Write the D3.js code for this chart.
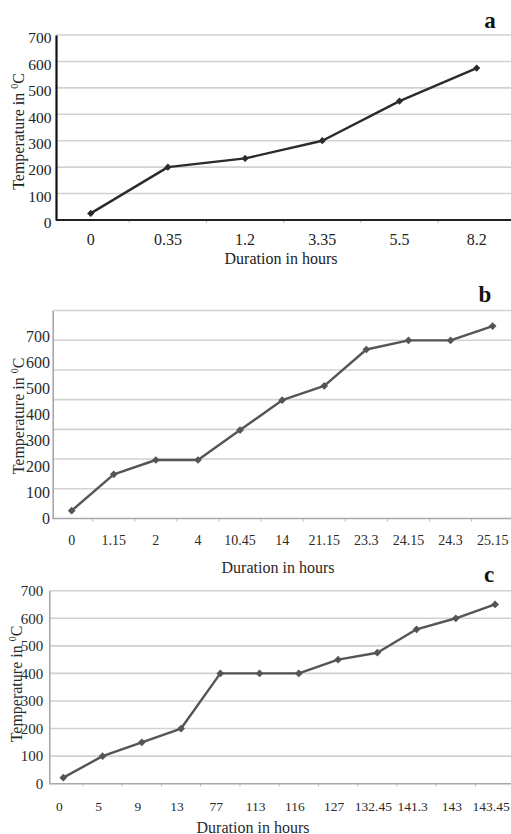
<!DOCTYPE html>
<html>
<head>
<meta charset="utf-8">
<script src="https://cdn.jsdelivr.net/npm/d3@7"></script>
<style>
    body { margin: 0; background: #fff; }
    svg text { font-family: "Liberation Serif", "DejaVu Serif", serif; }
</style>
</head>
<body>
<div id="chart-wrapper"></div>
<script>
// panel a
const hoursA = ["0", "0.35", "1.2", "3.35", "5.5", "8.2"];
const tempA = [25, 200, 233, 300, 450, 575];
// panel b
const hoursB = ["0", "1.15", "2", "4", "10.45", "14", "21.15", "23.3", "24.15", "24.3", "25.15"];
const tempB = [30, 170, 225, 225, 340, 455, 510, 650, 685, 685, 740];
// panel c
const hoursC = ["0", "5", "9", "13", "77", "113", "116", "127", "132.45", "141.3", "143", "143.45"];
const tempC = [22, 100, 150, 200, 400, 400, 400, 450, 475, 560, 600, 650];

const tempTicks = [0, 100, 200, 300, 400, 500, 600, 700];
const xTitle = "Duration in hours";
const yTitle = "Temperature in ";
const serif = "'Liberation Serif', 'DejaVu Serif', serif";

class LineChart {
    constructor(svg, opts){
        this.svg = svg;
        this.o = opts;
    }

    setData(cats, vals, ticks){
        this.data = cats.map((c, i) => ({k: c, v: vals[i]}));
        this.cats = cats;
        this.ticks = ticks;
    }

    drawChart(){
        let o = this.o;
        this.g = this.svg.append("g");
        this.x = d3.scaleBand().domain(this.cats).range([o.x0, o.x1]);
        this.y = d3.scaleLinear().domain(o.yDomain).range([o.yBottom, o.yTop]);

        this.addGrid();
        this.addAxes();
        this.addLine();
        this.addText();
    }

    addGrid(){
        let o = this.o, y = this.y;
        let gv = o.gridValues || this.ticks;
        this.g.append("g")
            .selectAll("line")
            .data(gv.filter(d => d > 0))
            .join("line")
            .attr("x1", o.axisX)
            .attr("x2", 511)
            .attr("y1", d => y(d))
            .attr("y2", d => y(d))
            .attr("stroke", "#d2d2d2")
            .attr("stroke-width", 1.6);
    }

    addAxes(){
        let o = this.o, x = this.x, y = this.y;
        let base = y(0);

        // small ticks between categories
        this.g.append("g")
            .selectAll("line")
            .data(this.cats)
            .join("line")
            .attr("x1", d => x(d) + x.step())
            .attr("x2", d => x(d) + x.step())
            .attr("y1", base)
            .attr("y2", base + 3)
            .attr("stroke", "#bbb")
            .attr("stroke-width", 1);

        this.g.append("line")
            .attr("x1", o.axisX)
            .attr("x2", 511)
            .attr("y1", base)
            .attr("y2", base)
            .attr("stroke", o.xAxisColor)
            .attr("stroke-width", o.xAxisWidth);

        let yAxis = this.g.append("g")
            .attr("transform", `translate(${o.axisX},0)`)
            .call(d3.axisLeft(y).tickValues(this.ticks).tickSize(0).tickSizeOuter(0).tickPadding(o.yPad))
            .attr("font-family", serif);
        yAxis.select(".domain").attr("stroke", o.yAxisColor).attr("stroke-width", o.yAxisWidth);
        yAxis.selectAll("text")
            .attr("font-size", o.yFont)
            .attr("fill", o.textColor)
            .attr("dy", o.yDy);

        let xAxis = this.g.append("g")
            .attr("transform", `translate(0,${base})`)
            .call(d3.axisBottom(x).tickSize(0).tickPadding(o.xPad))
            .attr("font-family", serif);
        xAxis.select(".domain").remove();
        xAxis.selectAll("text")
            .attr("font-size", o.xFont)
            .attr("dx", o.xDx || 0)
            .attr("fill", o.textColor);
    }

    addLine(){
        let o = this.o, x = this.x, y = this.y;
        let line = d3.line()
            .x(d => x(d.k) + x.bandwidth() / 2)
            .y(d => y(d.v));

        this.g.append("path")
            .datum(this.data)
            .attr("d", line)
            .attr("fill", "none")
            .attr("stroke", o.lineColor)
            .attr("stroke-width", 2.4)
            .attr("stroke-linejoin", "round");

        this.g.append("g")
            .selectAll("path")
            .data(this.data)
            .join("path")
            .attr("d", d3.symbol(d3.symbolSquare, o.markerSize))
            .attr("transform", d => `translate(${x(d.k) + x.bandwidth() / 2},${y(d.v)}) rotate(45)`)
            .attr("fill", o.lineColor);
    }

    addText(){
        let o = this.o;
        this.g.append("text")
            .attr("x", o.xTitleX)
            .attr("y", o.xTitleY)
            .attr("text-anchor", "middle")
            .attr("font-family", serif)
            .attr("font-size", 16)
            .attr("fill", o.textColor)
            .text(xTitle);

        let yt = this.g.append("text")
            .attr("transform", `translate(${o.yTitleX},${o.yTitleY}) rotate(-90)`)
            .attr("text-anchor", "middle")
            .attr("font-family", serif)
            .attr("font-size", 16)
            .attr("fill", o.textColor);
        yt.append("tspan").text(yTitle);
        yt.append("tspan").attr("font-size", 10).attr("dy", -6).text("0");
        yt.append("tspan").attr("dy", 6).text("C");

        this.g.append("text")
            .attr("x", o.letterX)
            .attr("y", o.letterY)
            .attr("text-anchor", "middle")
            .attr("font-family", serif)
            .attr("font-size", 23)
            .attr("font-weight", "bold")
            .attr("fill", "#111")
            .text(o.letter);
    }
}

let svg = d3.select("#chart-wrapper")
    .append("svg")
    .attr("width", 511)
    .attr("height", 834)
    .style("display", "block");

let chartA = new LineChart(svg, {
    x0: 52.1, x1: 515.3, axisX: 56, yTop: 35, yBottom: 220, yDomain: [0, 700],
    xAxisColor: "#222", xAxisWidth: 2, yAxisColor: "#111", yAxisWidth: 2.2,
    yPad: 4.5, yDy: "0.5em", yFont: 15.5, xPad: 14, xFont: 16,
    lineColor: "#2b2b2b", markerSize: 26, textColor: "#222",
    xTitleX: 281, xTitleY: 264, yTitleX: 23.5, yTitleY: 131.5,
    letter: "a", letterX: 490, letterY: 27.5
});
chartA.setData(hoursA, tempA, tempTicks);
chartA.drawChart();

let chartB = new LineChart(svg, {
    x0: 50.6, x1: 513.7, axisX: 52.7, yTop: 310.5, yBottom: 518.5, yDomain: [0, 800],
    gridValues: d3.range(8).map(i => 800 * i / 7),
    xAxisColor: "#a8a8a8", xAxisWidth: 1.6, yAxisColor: "#a8a8a8", yAxisWidth: 1.6,
    yPad: 2.7, yDy: "0.32em", yFont: 16, xPad: 16.5, xFont: 14,
    lineColor: "#555", markerSize: 30, textColor: "#2a2a2a",
    xTitleX: 278, xTitleY: 572.5, yTitleX: 23.5, yTitleY: 416,
    letter: "b", letterX: 485, letterY: 301.5
});
chartB.setData(hoursB, tempB, tempTicks);
chartB.drawChart();

let chartC = new LineChart(svg, {
    x0: 43.7, x1: 514.7, axisX: 49.3, yTop: 590.7, yBottom: 783.7, yDomain: [0, 700],
    xAxisColor: "#a8a8a8", xAxisWidth: 1.6, yAxisColor: "#a8a8a8", yAxisWidth: 1.6,
    yPad: 6, yDy: "0.32em", yFont: 15, xPad: 18, xFont: 13.5, xDx: -4,
    lineColor: "#555", markerSize: 30, textColor: "#2a2a2a",
    xTitleX: 253, xTitleY: 832.5, yTitleX: 22, yTitleY: 684,
    letter: "c", letterX: 489, letterY: 581.5
});
chartC.setData(hoursC, tempC, tempTicks);
chartC.drawChart();
</script>
</body>
</html>
